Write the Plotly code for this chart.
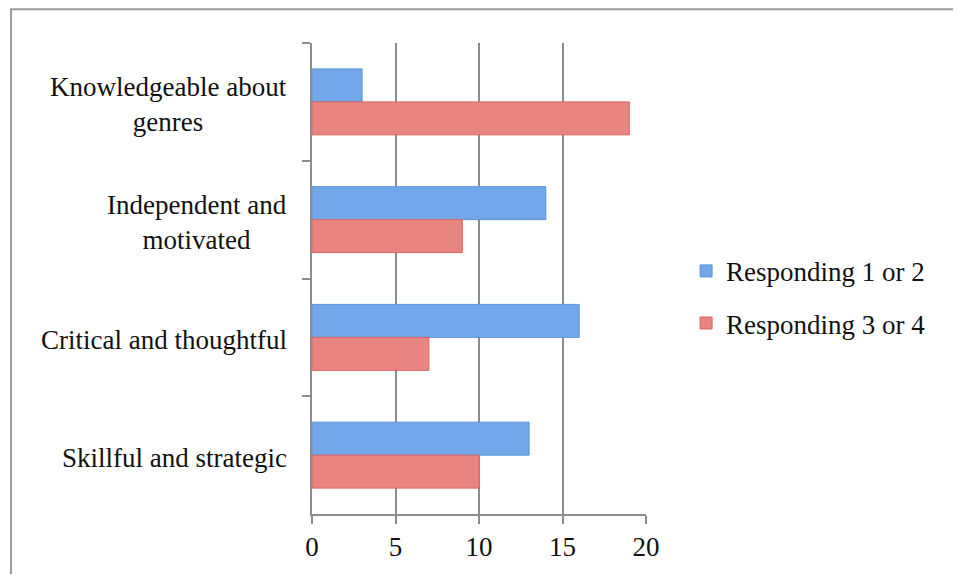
import plotly.graph_objects as go

categories = ["Knowledgeable about genres", "Independent and motivated",
              "Critical and thoughtful", "Skillful and strategic"]
label_text = ["Knowledgeable about<br>genres", "Independent and<br>motivated",
              "Critical and thoughtful", "Skillful and strategic"]
resp_1_2 = [3, 14, 16, 13]
resp_3_4 = [19, 9, 7, 10]
x_ticks = [0, 5, 10, 15, 20]

FONT = "Liberation Serif"
FSIZE = 27
GRID = "#8c8c8c"

fig = go.Figure()
fig.add_trace(
    go.Bar(
        name="Responding 1 or 2",
        y=categories,
        x=resp_1_2,
        orientation="h",
        legendgroup="a",
        marker=dict(color="#72a8ea", line=dict(color="#5a93da", width=1)),
    )
)
fig.add_trace(
    go.Bar(
        name="Responding 3 or 4",
        y=categories,
        x=resp_3_4,
        orientation="h",
        legendgroup="b",
        marker=dict(color="#e98580", line=dict(color="#dc6560", width=1)),
    )
)

# category labels as annotations so the wrapped lines sit centred
for cat, txt in zip(categories, label_text):
    fig.add_annotation(
        x=-0.07, xref="paper", xanchor="right",
        y=cat, yref="y", yshift=-3,
        text=txt, align="center", showarrow=False,
        font=dict(family=FONT, size=FSIZE, color="#111111"),
    )

# outer frame: only top and left edges show, the rest runs off the page
fig.add_shape(
    type="path", xref="paper", yref="paper",
    path="M -0.901,-0.5 L -0.901,1.0716 L 2.5,1.0716",
    line=dict(color="#9a9a9a", width=2),
)

fig.update_layout(
    width=945,
    height=566,
    # page body adds 8px margin all round, so fit inside the window without scrollbars
    margin=dict(l=304, r=307, t=35, b=56),
    paper_bgcolor="white",
    plot_bgcolor="white",
    barmode="group",
    bargap=0.44,
    bargroupgap=0,
    font=dict(family=FONT, size=FSIZE, color="#111111"),
    xaxis=dict(
        range=[0, 20],
        tickvals=x_ticks,
        showgrid=True,
        gridcolor=GRID,
        gridwidth=2,
        showline=True,
        linecolor=GRID,
        linewidth=2,
        ticks="outside",
        ticklen=8,
        tickwidth=2,
        tickcolor=GRID,
        zeroline=False,
        tickfont=dict(family=FONT, size=FSIZE),
    ),
    yaxis=dict(
        autorange="reversed",
        showticklabels=False,
        showline=True,
        linecolor=GRID,
        linewidth=2,
        ticks="outside",
        tickson="boundaries",
        ticklen=8,
        tickwidth=2,
        tickcolor=GRID,
        showgrid=False,
    ),
    legend=dict(
        x=1.12,
        y=0.46,
        xanchor="left",
        yanchor="middle",
        traceorder="grouped",
        tracegroupgap=14,
        font=dict(family=FONT, size=FSIZE),
        itemwidth=30,
    ),
)

fig.write_html("out.html")
